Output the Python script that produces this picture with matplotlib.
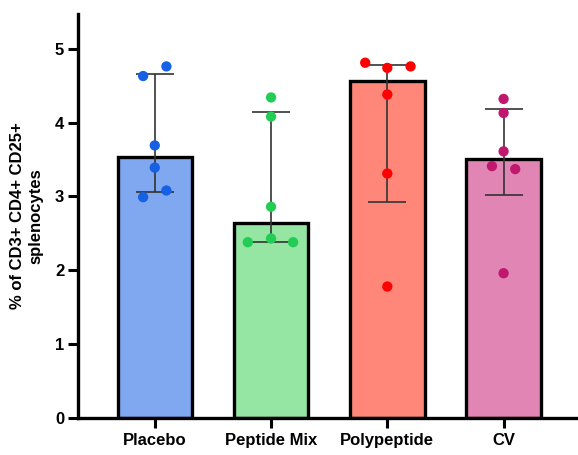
import numpy as np
import matplotlib
matplotlib.use("Agg")
import matplotlib.pyplot as plt

groups = ["Placebo", "Peptide Mix", "Polypeptide", "CV"]
placebo = [4.63, 4.76, 3.69, 3.39, 3.08, 2.99]
peptide_mix = [4.34, 4.08, 2.86, 2.38, 2.43, 2.38]
polypeptide = [4.81, 4.74, 4.76, 4.38, 3.31, 1.78]
cv = [4.32, 4.13, 3.61, 3.41, 3.37, 1.96]
jitter = [
    [-0.10, 0.10, 0.0, 0.0, 0.10, -0.10],
    [0.0, 0.0, 0.0, -0.20, 0.0, 0.19],
    [-0.19, 0.0, 0.20, 0.0, 0.0, 0.0],
    [0.0, 0.0, 0.0, -0.10, 0.10, 0.0],
]
bar_colors = ["#80a8f0", "#94e6a2", "#ff877a", "#e085b4"]
dot_colors = ["#1560e3", "#22cc55", "#ff0000", "#c0186f"]

plt.rcParams["font.family"] = ["Liberation Sans", "DejaVu Sans"]
plt.rcParams["font.weight"] = "bold"

fig = plt.figure(figsize=(5.78, 4.55), dpi=100)
ax = fig.add_axes([0.135, 0.0813, 0.865, 0.888])

data = [placebo, peptide_mix, polypeptide, cv]
x = np.arange(len(groups))
for i, vals in enumerate(data):
    vals = np.array(vals)
    # bar = median, whiskers = interquartile range
    med = np.median(vals)
    q1, q3 = np.percentile(vals, [25, 75], method="weibull")
    ax.bar(x[i], med, width=0.64, color=bar_colors[i], edgecolor="black",
           linewidth=2.4, zorder=1)
    ax.errorbar(x[i], med, yerr=[[med - q1], [q3 - med]], fmt="none",
                ecolor="#333333", elinewidth=1.2, capsize=14, capthick=1.2,
                zorder=2)
    ax.scatter(x[i] + np.array(jitter[i]), vals, s=55, color=dot_colors[i],
               edgecolors="none", zorder=3)

ax.set_xlim(-0.66, 3.64)
ax.set_ylim(0, 5.47)
ax.set_yticks([0, 1, 2, 3, 4, 5])
ax.set_xticks(x)
ax.set_xticklabels(groups, fontsize=12, fontweight="bold")
ax.tick_params(axis="y", labelsize=12, width=2.2, length=7, pad=3)
ax.tick_params(axis="x", width=2.2, length=7, pad=4)
for lab in ax.get_yticklabels():
    lab.set_fontweight("bold")
ax.spines["top"].set_visible(False)
ax.spines["right"].set_visible(False)
ax.spines["left"].set_linewidth(2.4)
ax.spines["bottom"].set_linewidth(2.4)
ax.set_ylabel("% of CD3+ CD4+ CD25+\nsplenocytes", fontsize=12,
              fontweight="bold", linespacing=1.35, multialignment="center",
              labelpad=8)

fig.savefig("out.png", dpi=100)
